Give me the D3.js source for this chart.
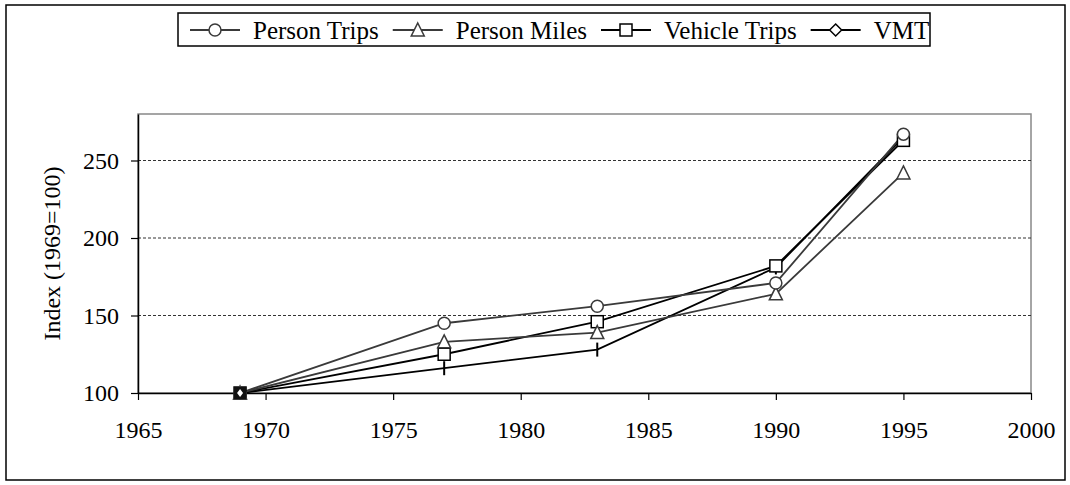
<html>
  <head>
    <script src="https://cdn.jsdelivr.net/npm/d3@7"></script>
    <style>
      * {
        margin: 0;
        padding: 0;
      }
      body {
        background-color: white;
      }
      svg text {
        font-family: "Liberation Serif", "Times New Roman", Times, serif;
      }
    </style>
  </head>
  <body>
    <div id="chart"></div>
    <script>
      const years = [1969, 1977, 1983, 1990, 1995];
      const personTrips = [100, 145, 156, 171, 267];
      const personMiles = [100, 133, 139, 164, 242];
      const vehicleTrips = [100, 125, 146, 182, 263];
      const vmt = [100, 116, 128, 181, 265];
      const xTicks = [1965, 1970, 1975, 1980, 1985, 1990, 1995, 2000];
      const yTicks = [100, 150, 200, 250];

      const series = [
        { name: "Person Trips", values: personTrips, marker: "circle", color: "#3a3a3a" },
        { name: "Person Miles", values: personMiles, marker: "triangle", color: "#3a3a3a" },
        { name: "Vehicle Trips", values: vehicleTrips, marker: "square", color: "#000" },
        { name: "VMT", values: vmt, marker: "tick", legendMarker: "diamond", color: "#000" },
      ];

      const w = 1070;
      const h = 485;
      const plotLeft = 138;
      const plotRight = 1031;
      const plotTop = 114;
      const plotBottom = 393;

      const svg = d3
        .select("#chart")
        .append("svg")
        .attr("width", w)
        .attr("height", h);

      // outer frame
      svg
        .append("rect")
        .attr("x", 6)
        .attr("y", 5)
        .attr("width", 1059)
        .attr("height", 475)
        .attr("fill", "none")
        .attr("stroke", "#000")
        .attr("stroke-width", 1.5);

      const xScale = d3.scaleLinear().domain([1965, 2000]).range([plotLeft, plotRight]);
      const yScale = d3.scaleLinear().domain([100, 280]).range([plotBottom, plotTop]);

      // plot area border
      svg
        .append("rect")
        .attr("x", plotLeft)
        .attr("y", plotTop)
        .attr("width", plotRight - plotLeft)
        .attr("height", plotBottom - plotTop)
        .attr("fill", "none")
        .attr("stroke", "#888")
        .attr("stroke-width", 1.5);

      // gridlines
      svg
        .append("g")
        .selectAll("line")
        .data(yTicks.slice(1))
        .enter()
        .append("line")
        .attr("x1", plotLeft)
        .attr("x2", plotRight)
        .attr("y1", (d) => yScale(d))
        .attr("y2", (d) => yScale(d))
        .attr("stroke", "#333")
        .attr("stroke-width", 1)
        .attr("stroke-dasharray", "3,2");

      const xAxis = d3
        .axisBottom(xScale)
        .tickValues(xTicks)
        .tickFormat(d3.format("d"))
        .tickSizeInner(7)
        .tickSizeOuter(0)
        .tickPadding(21);
      const yAxis = d3
        .axisLeft(yScale)
        .tickValues(yTicks)
        .tickSizeInner(7)
        .tickSizeOuter(0)
        .tickPadding(12);

      const gx = svg
        .append("g")
        .attr("transform", "translate(0," + plotBottom + ")")
        .call(xAxis);
      const gy = svg
        .append("g")
        .attr("transform", "translate(" + plotLeft + ",0)")
        .call(yAxis);

      [gx, gy].forEach((g) => {
        g.attr("font-family", null).attr("font-size", null);
        g.select(".domain").attr("stroke", "#000").attr("stroke-width", 1.5);
        g.selectAll(".tick line").attr("stroke", "#000").attr("stroke-width", 1.2);
        g.selectAll("text")
          .style("font-size", "24px")
          .attr("fill", "#000");
      });

      svg
        .append("text")
        .attr("transform", "translate(60," + (plotTop + plotBottom) / 2 + ") rotate(-90)")
        .attr("text-anchor", "middle")
        .style("font-size", "24px")
        .text("Index (1969=100)");

      const drawMarker = (g, type, x, y, color) => {
        if (type === "circle") {
          g.append("circle").attr("cx", x).attr("cy", y).attr("r", 6)
            .attr("fill", "white").attr("stroke", color).attr("stroke-width", 1.5);
        } else if (type === "triangle") {
          g.append("path")
            .attr("d", `M${x},${y - 7}L${x + 6.5},${y + 6}L${x - 6.5},${y + 6}Z`)
            .attr("fill", "white").attr("stroke", color).attr("stroke-width", 1.5);
        } else if (type === "square") {
          g.append("rect").attr("x", x - 6).attr("y", y - 6).attr("width", 12).attr("height", 12)
            .attr("fill", "white").attr("stroke", color).attr("stroke-width", 1.5);
        } else if (type === "diamond") {
          g.append("path")
            .attr("d", `M${x},${y - 6}L${x + 6},${y}L${x},${y + 6}L${x - 6},${y}Z`)
            .attr("fill", "white").attr("stroke", color).attr("stroke-width", 1.5);
        } else if (type === "tick") {
          g.append("line").attr("x1", x).attr("x2", x).attr("y1", y - 7).attr("y2", y + 7)
            .attr("stroke", color).attr("stroke-width", 2);
        }
      };

      const line = d3
        .line()
        .x((d, i) => xScale(years[i]))
        .y((d) => yScale(d));

      series
        .slice()
        .reverse()
        .forEach((s) => {
          svg
            .append("path")
            .attr("d", line(s.values))
            .attr("fill", "none")
            .attr("stroke", s.color)
            .attr("stroke-width", 1.8);
        });
      series
        .slice()
        .reverse()
        .forEach((s) => {
          const g = svg.append("g");
          s.values.forEach((v, i) => {
            drawMarker(g, s.marker, xScale(years[i]), yScale(v), s.color);
          });
        });

      // 1969 base point appears as a dark filled marker
      const bx = xScale(years[0]);
      const by = yScale(vmt[0]);
      svg
        .append("rect")
        .attr("x", bx - 6)
        .attr("y", by - 6)
        .attr("width", 12)
        .attr("height", 12)
        .attr("fill", "#111");
      svg
        .append("path")
        .attr("d", `M${bx},${by - 4}L${bx + 3},${by}L${bx},${by + 4}L${bx - 3},${by}Z`)
        .attr("fill", "white");

      // legend, laid out left to right from measured text widths
      const legend = svg.append("g");
      legend
        .append("rect")
        .attr("x", 178)
        .attr("y", 13)
        .attr("width", 752)
        .attr("height", 33)
        .attr("fill", "white")
        .attr("stroke", "#000")
        .attr("stroke-width", 1.5);
      let x0 = 190;
      series.forEach((s) => {
        const yc = 30;
        legend
          .append("line")
          .attr("x1", x0)
          .attr("x2", x0 + 50)
          .attr("y1", yc)
          .attr("y2", yc)
          .attr("stroke", s.color)
          .attr("stroke-width", 1.8);
        drawMarker(legend, s.legendMarker || s.marker, x0 + 25, yc, s.color);
        const t = legend
          .append("text")
          .attr("x", x0 + 63)
          .attr("y", yc + 9)
          .style("font-size", "25px")
          .text(s.name);
        x0 = x0 + 63 + t.node().getComputedTextLength() + 14;
      });
    </script>
  </body>
</html>
